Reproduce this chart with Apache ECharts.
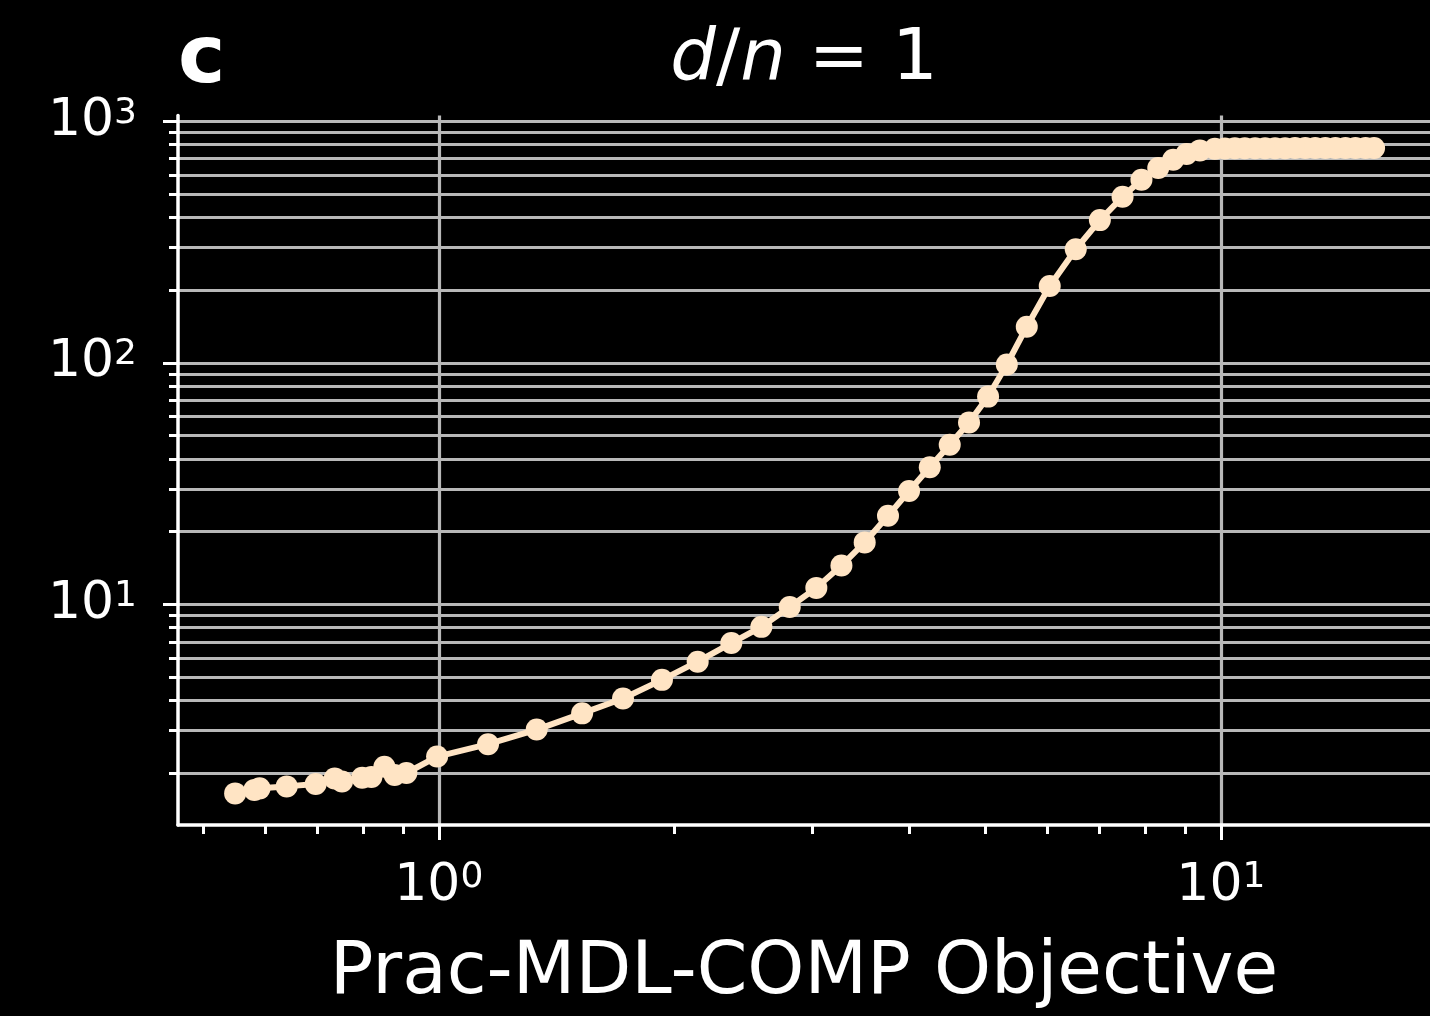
<!DOCTYPE html>
<html>
<head>
<meta charset="utf-8">
<style>
  html, body { margin: 0; padding: 0; background: #000; }
  #chart { width: 1430px; height: 1016px; }
</style>
<script src="https://cdn.jsdelivr.net/npm/echarts@6/dist/echarts.min.js"></script>
</head>
<body>
<div id="chart"></div>
<script>
// ---- Data ----
const xValues = [
  0.549, 0.581, 0.590, 0.639, 0.696, 0.736, 0.752, 0.798, 0.820, 0.852,
  0.878, 0.909, 0.995, 1.156, 1.334, 1.525, 1.720, 1.929, 2.143, 2.366,
  2.585, 2.810, 3.039, 3.272, 3.504, 3.753, 3.993, 4.244, 4.501, 4.764,
  5.039, 5.325, 5.647, 6.042, 6.523, 7.003, 7.487, 7.915, 8.316, 8.690,
  9.040, 9.400, 9.825, 10.12, 10.42, 10.73, 11.06, 11.39, 11.73, 12.08,
  12.44, 12.82, 13.20, 13.60, 14.01, 14.43, 14.86, 15.31, 15.70
];
const yValues = [
  1.649, 1.705, 1.730, 1.763, 1.805, 1.901, 1.848, 1.915, 1.928, 2.126,
  1.965, 2.003, 2.342, 2.636, 3.030, 3.537, 4.077, 4.867, 5.789, 6.912,
  8.067, 9.748, 11.70, 14.47, 18.05, 23.25, 29.45, 36.98, 45.80, 56.64,
  72.47, 98.4, 141.1, 208.1, 295.4, 389.9, 486.8, 573.3, 640.6, 693,
  733, 758, 770, 772, 773, 773, 774, 774, 774, 774,
  775, 775, 775, 775, 775, 775, 775, 775, 775
];
const xMajorTicks = [1, 10];
const xMinorTicks = [0.5, 0.6, 0.7, 0.8, 0.9, 2, 3, 4, 5, 6, 7, 8, 9];
const yMajorTicks = [10, 100, 1000];
const yMinorTicks = [2, 3, 4, 5, 6, 7, 8, 9, 20, 30, 40, 50, 60, 70, 80, 90,
                     200, 300, 400, 500, 600, 700, 800, 900];
const xRange = [0.464, 18.51];
const yRange = [1.22, 1057];
const panelLabel = 'c';
const titleParts = ['d', '/', 'n', ' = 1'];
const xAxisName = 'Prac-MDL-COMP Objective';

// ---- Chart ----
const FONT = 'DejaVu Sans';
const LINE_COLOR = '#FFE4C4';
const GRID_COLOR = '#b8b8b8';

const seriesData = xValues.map((x, i) => [x, yValues[i]]);

function powLabel(v) {
  const e = Math.round(Math.log10(v));
  return '{b|10}{s|' + e + '}';
}
const richPow = {
  b: { fontSize: 52, lineHeight: 52, color: '#fff', fontFamily: FONT },
  s: { fontSize: 36, lineHeight: 23, verticalAlign: 'top', color: '#fff', fontFamily: FONT }
};

const chart = echarts.init(document.getElementById('chart'), null, { renderer: 'canvas' });
chart.setOption({
  backgroundColor: '#000',
  animation: false,
  title: [
    {
      text: '{i|' + titleParts[0] + '}{n|' + titleParts[1] + '}{i|' + titleParts[2] + '}{n|' + titleParts[3] + '}',
      left: 804, top: 24, padding: 0, textAlign: 'center',
      textStyle: {
        fontWeight: 'normal',
        rich: {
          i: { fontSize: 72, fontStyle: 'italic', fontWeight: 'normal', color: '#fff', fontFamily: FONT, lineHeight: 72 },
          n: { fontSize: 72, fontWeight: 'normal', color: '#fff', fontFamily: FONT, lineHeight: 72 }
        }
      }
    },
    {
      text: panelLabel,
      left: 178, top: 21, padding: 0,
      textStyle: { fontSize: 80, fontWeight: 'bold', color: '#fff', fontFamily: FONT, lineHeight: 80 }
    }
  ],
  grid: { left: 178, top: 115.5, right: 0, bottom: 187 },
  xAxis: [
    {
      type: 'log', logBase: 10, min: xRange[0], max: xRange[1], position: 'bottom',
      axisLine: { show: true, lineStyle: { color: '#fff', width: 3.5 } },
      axisTick: { show: true, customValues: xMajorTicks, length: 15, lineStyle: { color: '#fff', width: 3 } },
      axisLabel: { show: true, customValues: xMajorTicks, margin: 35, formatter: powLabel, rich: richPow },
      splitLine: { show: true, lineStyle: { color: GRID_COLOR, width: 3.2 } },
      minorTick: { show: false }, minorSplitLine: { show: false },
      name: xAxisName, nameLocation: 'middle', nameGap: 113,
      nameTextStyle: { fontSize: 72.6, color: '#fff', fontFamily: FONT }
    },
    {
      type: 'log', logBase: 10, min: xRange[0], max: xRange[1], position: 'bottom',
      axisLine: { show: false },
      axisTick: { show: true, customValues: xMinorTicks, length: 9, lineStyle: { color: '#fff', width: 3 } },
      axisLabel: { show: false },
      splitLine: { show: false }
    }
  ],
  yAxis: [
    {
      type: 'log', logBase: 10, min: yRange[0], max: yRange[1], position: 'left',
      axisLine: { show: true, lineStyle: { color: '#fff', width: 3.5 } },
      axisTick: { show: true, customValues: yMajorTicks, length: 15, lineStyle: { color: '#fff', width: 3 } },
      axisLabel: { show: true, customValues: yMajorTicks, margin: 41, formatter: powLabel, rich: richPow },
      splitLine: { show: true, lineStyle: { color: GRID_COLOR, width: 3.2 } }
    },
    {
      type: 'log', logBase: 10, min: yRange[0], max: yRange[1], position: 'left',
      axisLine: { show: false },
      axisTick: { show: true, customValues: yMinorTicks, length: 9, lineStyle: { color: '#fff', width: 3 } },
      axisLabel: { show: false },
      splitLine: { show: true, lineStyle: { color: GRID_COLOR, width: 3.2 } }
    }
  ],
  series: [
    {
      type: 'line', xAxisIndex: 0, yAxisIndex: 0,
      data: seriesData,
      symbol: 'circle', symbolSize: 22, showSymbol: true,
      lineStyle: { color: LINE_COLOR, width: 6 },
      itemStyle: { color: LINE_COLOR },
      z: 5
    }
  ]
});
</script>
</body>
</html>
